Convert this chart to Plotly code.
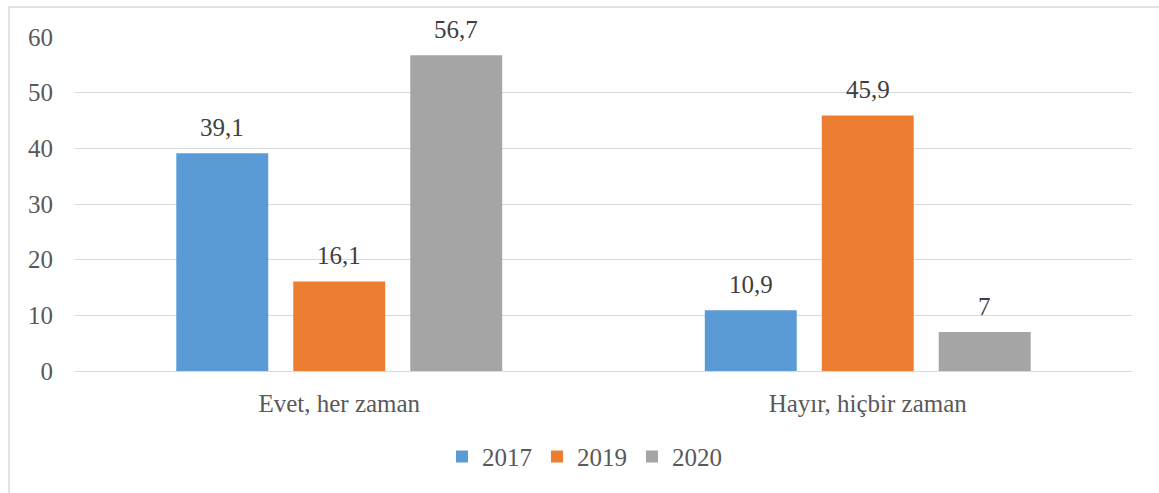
import plotly.graph_objects as go

categories = ["Evet, her zaman", "Hayır, hiçbir zaman"]
series_names = ["2017", "2019", "2020"]
values_2017 = [39.1, 10.9]
values_2019 = [16.1, 45.9]
values_2020 = [56.7, 7]
colors = ["#5B9BD5", "#ED7D31", "#A5A5A5"]

font_family = "Liberation Serif, Times New Roman, serif"
text_color = "#595959"
label_color = "#404040"
FS = 25

all_values = [values_2017, values_2019, values_2020]

fig = go.Figure()
for name, vals, col in zip(series_names, all_values, colors):
    fig.add_trace(go.Bar(
        x=categories, y=vals, name=name, marker=dict(color=col, line=dict(width=0)),
    ))

# data labels above the bars
slot_px = 117
annotations = []
for i, vals in enumerate(all_values):
    for cat, v in zip(categories, vals):
        annotations.append(dict(
            x=cat, y=v, xref="x", yref="y", text=f"{v:g}".replace(".", ","),
            showarrow=False, yanchor="bottom", xanchor="center",
            xshift=(i - 1) * slot_px, yshift=10,
            font=dict(family=font_family, size=FS, color=label_color),
        ))

fig.update_layout(
    width=1159, height=493,
    margin=dict(l=75, r=27, t=37, b=122),
    paper_bgcolor="white", plot_bgcolor="white",
    barmode="group", bargap=0.336, bargroupgap=0.214,
    font=dict(family=font_family, size=FS, color=text_color),
    showlegend=True,
    legend=dict(orientation="h", x=0.482, y=-0.257, xanchor="center", yanchor="middle",
                font=dict(family=font_family, size=FS, color=text_color),
                itemwidth=30, tracegroupgap=0),
    xaxis=dict(showgrid=False, showline=False, ticks="", ticklabelstandoff=15,
               tickfont=dict(family=font_family, size=FS, color=text_color)),
    yaxis=dict(range=[0, 60], dtick=10, showgrid=True, gridcolor="#D9D9D9", gridwidth=1,
               zeroline=True, zerolinecolor="#D9D9D9", zerolinewidth=1,
               showline=False, ticks="", ticklabelstandoff=21,
               tickfont=dict(family=font_family, size=FS, color=text_color)),
    annotations=annotations,
    shapes=[dict(type="rect", xref="paper", yref="paper",
                 x0=-0.0624, x1=1.2, y0=-0.6, y1=1.0898,
                 line=dict(color="#D9D9D9", width=1.5), fillcolor="rgba(0,0,0,0)", layer="below")],
)

fig.write_html("out.html", config={"displayModeBar": False},
               post_script="document.body.style.margin='0';document.body.style.overflow='hidden';")
